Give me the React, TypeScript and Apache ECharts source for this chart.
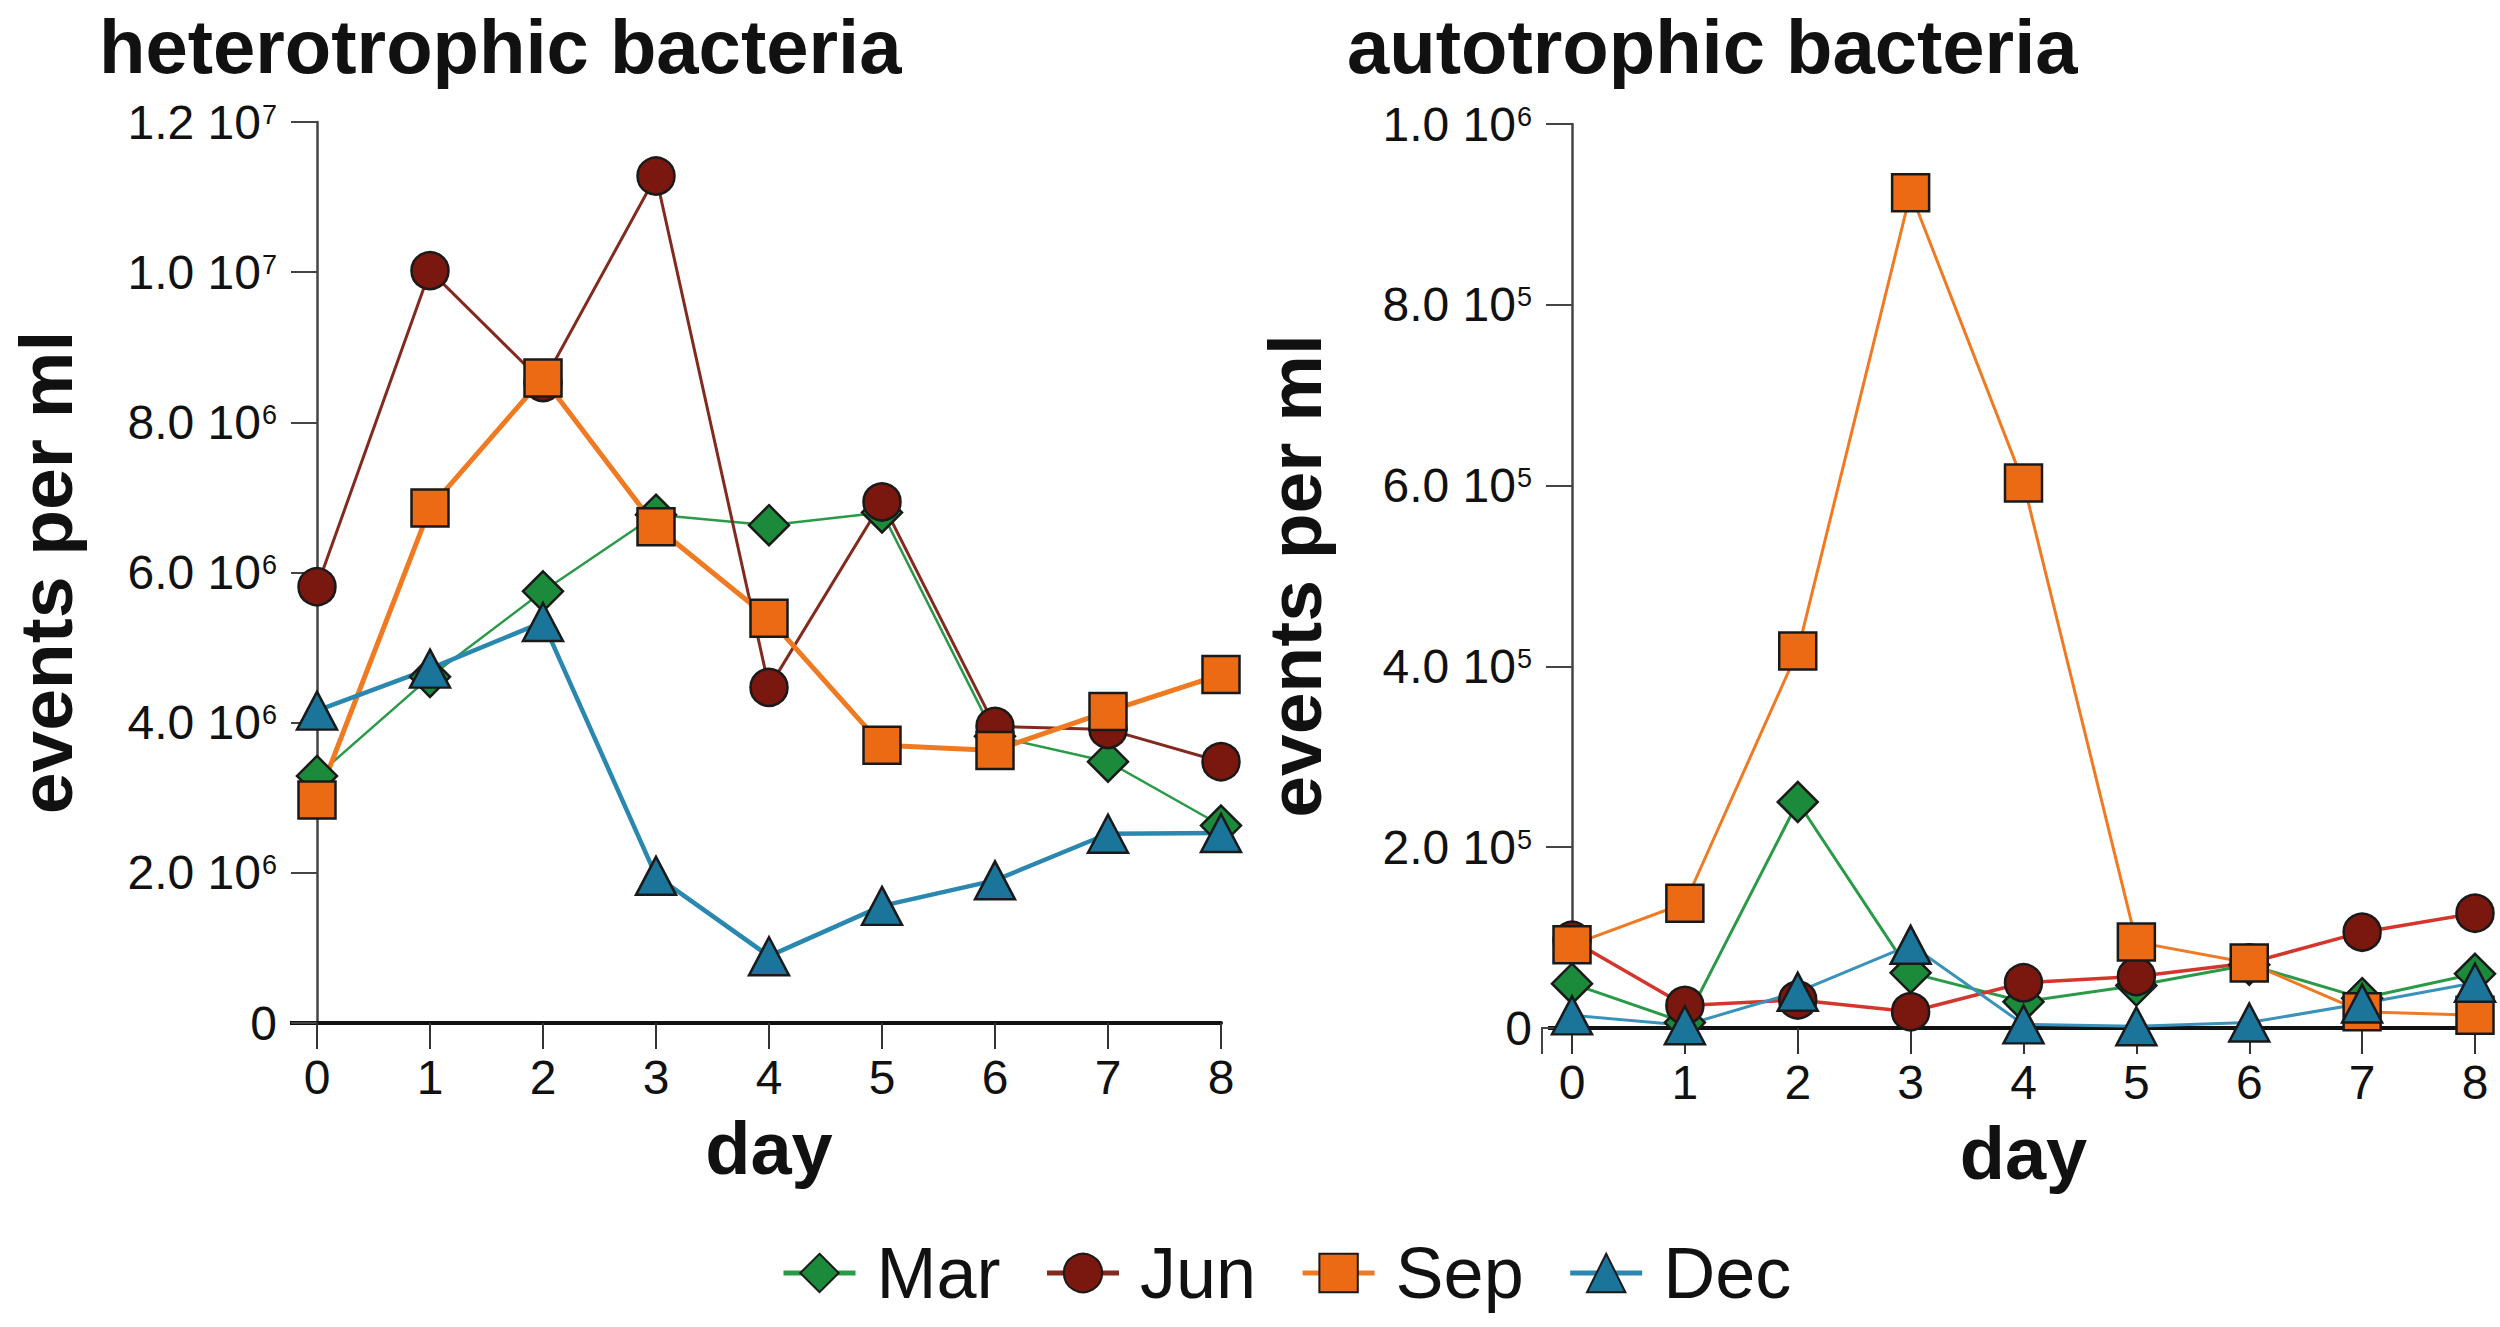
import * as echarts from 'echarts';
import { useEffect, useRef } from 'react';

const days = [0, 1, 2, 3, 4, 5, 6, 7, 8];
const months = ['Mar', 'Jun', 'Sep', 'Dec'];

// heterotrophic bacteria, events per ml
const heteroMar = [3.29e6, 4.61e6, 5.75e6, 6.77e6, 6.63e6, 6.8e6, 3.82e6, 3.48e6, 2.63e6];
const heteroJun = [5.81e6, 10.02e6, 8.53e6, 11.28e6, 4.47e6, 6.94e6, 3.95e6, 3.91e6, 3.48e6];
const heteroSep = [2.97e6, 6.86e6, 8.59e6, 6.61e6, 5.39e6, 3.7e6, 3.63e6, 4.15e6, 4.64e6];
const heteroDec = [4.16e6, 4.72e6, 5.34e6, 1.96e6, 0.89e6, 1.56e6, 1.9e6, 2.52e6, 2.53e6];

// autotrophic bacteria, events per ml
const autoMar = [49e3, 6e3, 250e3, 61e3, 29e3, 47e3, 70e3, 33e3, 60e3];
const autoJun = [97e3, 25e3, 31e3, 18e3, 50e3, 57e3, 72e3, 106e3, 127e3];
const autoSep = [92e3, 138e3, 417e3, 924e3, 603e3, 95e3, 72e3, 18e3, 14e3];
const autoDec = [14e3, 3e3, 40e3, 92e3, 4e3, 2e3, 6e3, 27e3, 50e3];

// y tick labels: mantissa + power of ten
const heteroTicks = [0, 2e6, 4e6, 6e6, 8e6, 1e7, 1.2e7];
const heteroMantissa = ['0', '2.0', '4.0', '6.0', '8.0', '1.0', '1.2'];
const heteroExponent = ['', '6', '6', '6', '6', '7', '7'];
const autoTicks = [0, 2e5, 4e5, 6e5, 8e5, 1e6];
const autoMantissa = ['0', '2.0', '4.0', '6.0', '8.0', '1.0'];
const autoExponent = ['', '5', '5', '5', '5', '6'];

const font = "'Liberation Sans', Arial, Helvetica, sans-serif";
const ink = '#111';

const symbols: Record<string, string> = { Mar: 'diamond', Jun: 'circle', Sep: 'rect', Dec: 'triangle' };
const symbolSizes: Record<string, number | number[]> = { Mar: [40, 40], Jun: 37, Sep: 37, Dec: [40, 38] };
const fills: Record<string, string> = { Mar: '#1b8a3a', Jun: '#7a170f', Sep: '#ec6a14', Dec: '#1b7499' };
const leftLines: Record<string, [string, number]> = {
  Mar: ['#2a9a48', 2.5], Jun: ['#832a1e', 3], Sep: ['#f07a22', 5], Dec: ['#2a88b0', 4.5],
};
const rightLines: Record<string, [string, number]> = {
  Mar: ['#2a9a48', 3], Jun: ['#d3362c', 3.5], Sep: ['#f07a22', 3], Dec: ['#3a92bb', 3],
};

const tickFormatter = (ticks: number[], mantissa: string[], exponent: string[]) => (value: number) => {
  const i = ticks.findIndex((t) => Math.abs(t - value) < 1);
  if (i < 0) return '';
  if (!exponent[i]) return `{b|${mantissa[i]}}`;
  return `{b|${mantissa[i]} 10}{s|${exponent[i]}}`;
};

const tickRich = {
  b: { fontSize: 48, lineHeight: 60, fontFamily: font, color: ink },
  s: { fontSize: 27, fontFamily: font, color: ink, padding: [0, 0, 15, 1] },
};

function xAxis(gridIndex: number) {
  return {
    gridIndex,
    type: 'value',
    min: 0,
    max: 8,
    interval: 1,
    axisLine: { onZero: false, lineStyle: { color: ink, width: 4 } },
    axisTick: { length: 26, lineStyle: { color: '#333', width: 2 } },
    axisLabel: { fontSize: 48, margin: 30, color: ink, fontFamily: font },
    splitLine: { show: false },
    name: 'day',
    nameLocation: 'middle',
    nameGap: 88,
    nameTextStyle: { fontSize: 74, fontWeight: 'bold', color: ink, fontFamily: font },
  };
}

function yAxis(gridIndex: number, max: number, interval: number, formatter: (v: number) => string, nameGap: number) {
  return {
    gridIndex,
    type: 'value',
    min: 0,
    max,
    interval,
    axisLine: { show: true, lineStyle: { color: '#444', width: 2.5 } },
    axisTick: { show: true, length: 26, lineStyle: { color: '#444', width: 2 } },
    axisLabel: { margin: 40, formatter, rich: tickRich },
    splitLine: { show: false },
    name: 'events per ml',
    nameLocation: 'middle',
    nameRotate: 90,
    nameGap,
    nameTextStyle: { fontSize: 75, fontWeight: 'bold', color: ink, fontFamily: font },
  };
}

function lineSeries(name: string, values: number[], axisIndex: number, lines: Record<string, [string, number]>) {
  return {
    name,
    type: 'line',
    xAxisIndex: axisIndex,
    yAxisIndex: axisIndex,
    data: days.map((d, i) => [d, values[i]]),
    symbol: symbols[name],
    symbolSize: symbolSizes[name],
    lineStyle: { color: lines[name][0], width: lines[name][1] },
    itemStyle: { color: fills[name], borderColor: '#1a1a1a', borderWidth: 2.5 },
    emphasis: { disabled: true },
  };
}

export default function App() {
  const ref = useRef<HTMLDivElement>(null);

  useEffect(() => {
    document.body.style.margin = '0';
    const element = ref.current;
    if (!element) return undefined;
    const chart = echarts.init(element, undefined, { renderer: 'svg' });

    const hetero = [heteroMar, heteroJun, heteroSep, heteroDec];
    const auto = [autoMar, autoJun, autoSep, autoDec];

    chart.setOption({
      animation: false,
      backgroundColor: '#fff',
      title: [
        { text: 'heterotrophic bacteria', left: 94, top: 3, textStyle: { fontSize: 76, fontWeight: 'bold', color: ink, fontFamily: font } },
        { text: 'autotrophic bacteria', left: 1342, top: 3, textStyle: { fontSize: 76, fontWeight: 'bold', color: ink, fontFamily: font } },
      ],
      legend: {
        data: months,
        left: 776,
        top: 1232,
        itemWidth: 72,
        itemHeight: 48,
        itemGap: 44,
        lineStyle: { width: 5 },
        textStyle: { fontSize: 72, color: ink, fontFamily: font, padding: [0, 0, 0, 16] },
      },
      grid: [
        { left: 317, right: 1279, top: 122, bottom: 304 },
        { left: 1572, right: 25, top: 124, bottom: 299 },
      ],
      xAxis: [xAxis(0), xAxis(1)],
      yAxis: [
        yAxis(0, 1.2e7, 2e6, tickFormatter(heteroTicks, heteroMantissa, heteroExponent), 234),
        yAxis(1, 1e6, 2e5, tickFormatter(autoTicks, autoMantissa, autoExponent), 240),
      ],
      series: [
        ...months.map((m, i) => lineSeries(m, hetero[i], 0, leftLines)),
        ...months.map((m, i) => lineSeries(m, auto[i], 1, rightLines)),
      ],
    });

    // small axis stubs left of the origin, as in the original figure
    const p = chart.convertToPixel({ xAxisIndex: 0, yAxisIndex: 0 }, [0, 0]) as number[];
    const q = chart.convertToPixel({ xAxisIndex: 1, yAxisIndex: 1 }, [0, 0]) as number[];
    chart.setOption({
      graphic: [
        { type: 'line', silent: true, z: 0, shape: { x1: p[0] - 27, y1: p[1], x2: p[0], y2: p[1] }, style: { stroke: ink, lineWidth: 4 } },
        { type: 'line', silent: true, z: 0, shape: { x1: q[0] - 24, y1: q[1], x2: q[0], y2: q[1] }, style: { stroke: ink, lineWidth: 4 } },
        { type: 'line', silent: true, z: 0, shape: { x1: q[0] - 30, y1: q[1], x2: q[0] - 30, y2: q[1] + 26 }, style: { stroke: '#444', lineWidth: 2 } },
        { type: 'line', silent: true, z: 0, shape: { x1: q[0] - 31, y1: q[1], x2: q[0] - 22, y2: q[1] }, style: { stroke: '#444', lineWidth: 2 } },
      ],
    });

    return () => chart.dispose();
  }, []);

  return <div ref={ref} style={{ width: 2500, height: 1327 }} />;
}
